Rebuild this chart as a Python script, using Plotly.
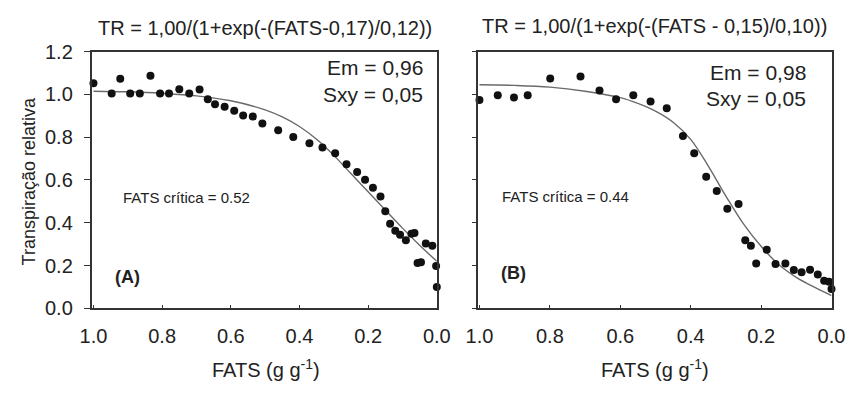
import plotly.graph_objects as go

# ---------------- data ----------------
fats_a = [1.0, 0.947, 0.922, 0.893, 0.865, 0.834, 0.806, 0.780, 0.750, 0.721, 0.691,
          0.667, 0.646, 0.618, 0.590, 0.564, 0.536, 0.508, 0.462, 0.418, 0.371, 0.333,
          0.296, 0.263, 0.232, 0.209, 0.186, 0.164, 0.150, 0.136, 0.121, 0.107, 0.090,
          0.074, 0.065, 0.056, 0.046, 0.032, 0.013, 0.002, 0.0]
tr_a = [1.052, 1.004, 1.073, 1.004, 1.004, 1.087, 1.004, 1.004, 1.024, 1.004, 1.023,
        0.977, 0.954, 0.942, 0.923, 0.901, 0.897, 0.864, 0.832, 0.801, 0.772, 0.752,
        0.725, 0.674, 0.637, 0.601, 0.564, 0.523, 0.454, 0.396, 0.363, 0.344, 0.318,
        0.349, 0.352, 0.212, 0.215, 0.303, 0.293, 0.198, 0.100]

fit_x_a = [1.0, 0.9, 0.8, 0.7, 0.6, 0.5, 0.45, 0.4, 0.35, 0.3, 0.25, 0.2, 0.15, 0.1, 0.05, 0.0]
fit_y_a = [1.015, 1.012, 1.005, 0.993, 0.970, 0.928, 0.895, 0.850, 0.790, 0.715, 0.630,
           0.545, 0.460, 0.375, 0.295, 0.220]

fats_b = [1.0, 0.948, 0.902, 0.863, 0.799, 0.713, 0.659, 0.612, 0.563, 0.514, 0.468,
          0.422, 0.390, 0.356, 0.326, 0.296, 0.264, 0.245, 0.229, 0.214, 0.184, 0.159,
          0.131, 0.107, 0.085, 0.061, 0.039, 0.021, 0.007, 0.0]
tr_b = [0.974, 0.996, 0.985, 0.996, 1.074, 1.084, 1.018, 0.977, 0.996, 0.967, 0.935,
        0.806, 0.725, 0.615, 0.549, 0.466, 0.488, 0.318, 0.293, 0.210, 0.274, 0.207,
        0.210, 0.179, 0.169, 0.180, 0.158, 0.129, 0.124, 0.091]

fit_x_b = [1.0, 0.9, 0.8, 0.7, 0.6, 0.55, 0.5, 0.45, 0.4, 0.35, 0.3, 0.25, 0.2, 0.15, 0.1, 0.05, 0.0]
fit_y_b = [1.045, 1.042, 1.034, 1.015, 0.985, 0.958, 0.922, 0.870, 0.790, 0.665, 0.525,
           0.395, 0.290, 0.205, 0.145, 0.100, 0.060]

x_ticks = [1.0, 0.8, 0.6, 0.4, 0.2, 0.0]
x_tick_labels = ["1.0", "0.8", "0.6", "0.4", "0.2", "0.0"]
y_ticks = [0.0, 0.2, 0.4, 0.6, 0.8, 1.0, 1.2]
y_tick_labels = ["0.0", "0.2", "0.4", "0.6", "0.8", "1.0", "1.2"]

title_a = "TR = 1,00/(1+exp(-(FATS-0,17)/0,12))"
title_b = "TR = 1,00/(1+exp(-(FATS - 0,15)/0,10))"

# ---------------- figure ----------------
W, H = 862, 393
TXT = "#222222"
FONT = "Liberation Sans Narrow, Arial Narrow, Liberation Sans, Arial, sans-serif"
FONT_N = "Liberation Sans, Arial, sans-serif"


def px(x):
    return x / W


def py(y):
    return 1 - y / H


fig = go.Figure()

marker = dict(color="#111111", size=8, symbol="circle")
line = dict(color="#6a6a6a", width=1.4, shape="spline")

fig.add_trace(go.Scatter(x=fit_x_a, y=fit_y_a, mode="lines", line=line,
                         xaxis="x", yaxis="y", hoverinfo="skip"))
fig.add_trace(go.Scatter(x=fats_a, y=tr_a, mode="markers", marker=marker,
                         xaxis="x", yaxis="y", cliponaxis=False))
fig.add_trace(go.Scatter(x=fit_x_b, y=fit_y_b, mode="lines", line=line,
                         xaxis="x2", yaxis="y2", hoverinfo="skip"))
fig.add_trace(go.Scatter(x=fats_b, y=tr_b, mode="markers", marker=marker,
                         xaxis="x2", yaxis="y2", cliponaxis=False))

y_dom = [py(315), py(43)]
axis_common = dict(showgrid=False, zeroline=False, showline=True, linecolor="#333333",
                   linewidth=1.5, mirror=True)

fig.update_layout(
    width=W, height=H,
    margin=dict(l=0, r=0, t=0, b=0),
    paper_bgcolor="white", plot_bgcolor="white",
    showlegend=False,
    font=dict(family=FONT, color=TXT),
    xaxis=dict(domain=[px(82), px(438)], range=[1.0 + 2 / 354, 0.0], anchor="y",
               tickmode="array", tickvals=x_ticks, ticktext=x_tick_labels,
               ticks="inside", ticklen=4, tickcolor="#333333",
               tickfont=dict(size=20, family=FONT, color=TXT), ticklabelstandoff=9,
               **axis_common),
    yaxis=dict(domain=y_dom, range=[0, 1.2], anchor="x",
               tickmode="array", tickvals=y_ticks, ticktext=y_tick_labels,
               ticks="outside", ticklen=6, tickcolor="#333333",
               tickfont=dict(size=20, family=FONT, color=TXT), ticklabelstandoff=7,
               **axis_common),
    xaxis2=dict(domain=[px(480), px(845)], range=[1.0 + 2 / 363, 0.0], anchor="y2",
                tickmode="array", tickvals=x_ticks, ticktext=x_tick_labels,
                ticks="inside", ticklen=4, tickcolor="#333333",
                tickfont=dict(size=20, family=FONT, color=TXT), ticklabelstandoff=9,
                **axis_common),
    yaxis2=dict(domain=y_dom, range=[0, 1.2], anchor="x2",
                tickmode="array", tickvals=y_ticks, showticklabels=False,
                ticks="outside", ticklen=4, tickcolor="#333333",
                **axis_common),
)

ann = []


def add_text(text, x, y, size, xanchor="center", yanchor="middle", family=FONT_N, angle=0):
    ann.append(dict(text=text, x=px(x), y=py(y), xref="paper", yref="paper",
                    xanchor=xanchor, yanchor=yanchor, showarrow=False, textangle=angle,
                    font=dict(size=size, family=family, color=TXT)))


add_text(title_a, 261, 18, 20)
add_text(title_b, 662, 16, 20)
add_text("Em = 0,96", 426, 60, 21, xanchor="right")
add_text("Sxy = 0,05", 426, 88, 21, xanchor="right")
add_text("Em = 0,98", 821, 65, 21, xanchor="right")
add_text("Sxy = 0,05", 821, 93, 21, xanchor="right")
add_text("FATS crítica = 0.52", 112, 198, 15, xanchor="left")
add_text("FATS crítica = 0.44", 503, 197, 15, xanchor="left")
add_text("<b>(A)</b>", 104, 282, 18, xanchor="left")
add_text("<b>(B)</b>", 502, 278, 18, xanchor="left")
add_text("Transpiração relativa", 17, 180, 18, angle=-90)
add_text("FATS (g g<sup>-1</sup>)", 262, 379, 20, family=FONT)
add_text("FATS (g g<sup>-1</sup>)", 663, 379, 20, family=FONT)

fig.update_layout(annotations=ann)

fig.write_html("out.html", config={"displayModeBar": False},
               post_script="document.body.style.margin='0';")
